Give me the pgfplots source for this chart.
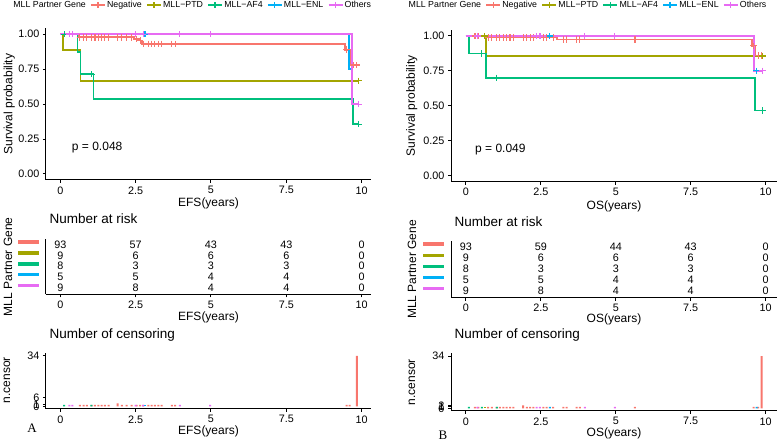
\documentclass[border=0pt]{standalone}
\usepackage{fontspec}
\setmainfont{Liberation Sans}
\newfontfamily\seriffont{Liberation Serif}
\usepackage{pgfplots}
\usepackage{pgfplotstable}
\pgfplotsset{compat=1.18}

\definecolor{cNeg}{HTML}{F8766D}
\definecolor{cPTD}{HTML}{A3A500}
\definecolor{cAF4}{HTML}{00BF7D}
\definecolor{cENL}{HTML}{00B0F6}
\definecolor{cOth}{HTML}{E76BF3}

% number at risk, rows: 5 = Negative ... 1 = Others
\pgfplotstableread{
x   y n
0   5 93
2.5 5 57
5   5 43
7.5 5 43
10  5 0
0   4 9
2.5 4 6
5   4 6
7.5 4 6
10  4 0
0   3 8
2.5 3 3
5   3 3
7.5 3 3
10  3 0
0   2 5
2.5 2 5
5   2 4
7.5 2 4
10  2 0
0   1 9
2.5 1 8
5   1 4
7.5 1 4
10  1 0
}\riskA
\pgfplotstableread{
x   y n
0   5 93
2.5 5 59
5   5 44
7.5 5 43
10  5 0
0   4 9
2.5 4 6
5   4 6
7.5 4 6
10  4 0
0   3 8
2.5 3 3
5   3 3
7.5 3 3
10  3 0
0   2 5
2.5 2 5
5   2 4
7.5 2 4
10  2 0
0   1 9
2.5 1 8
5   1 4
7.5 1 4
10  1 0
}\riskB

\pgfplotsset{
  gg/.style={
    scale only axis, clip=false,
    axis x line*=bottom, axis y line*=left,
    axis line style={line width=1pt, black, -},
    every tick/.style={line width=1pt, black},
    tick align=outside, major tick length=3pt,
    xtick={0,2.5,5,7.5,10}, xticklabels={0,2.5,5,7.5,10},
    ticklabel style={font=\fontsize{10.8}{12}\selectfont, black},
    /pgf/number format/assume math mode=true,
    label style={font=\fontsize{12}{14}\selectfont},
    title style={font=\fontsize{13.5}{15}\selectfont, at={(0,1)}, anchor=base west},
  },
  km/.style={gg, height=152pt,
    ymin=-0.043, ymax=1.045,
    ytick={0,0.25,0.5,0.75,1}, yticklabels={0.00,0.25,0.50,0.75,1.00},
    ylabel={Survival probability},
    legend style={draw=none, fill=none, inner sep=0pt, legend columns=-1,
      font=\fontsize{8.8}{10}\selectfont,
      nodes={inner sep=1.5pt},
      /tikz/every even column/.append style={column sep=3pt}},
    legend image code/.code={\draw[mark repeat=2,mark phase=2,##1] plot coordinates {(0pt,0pt) (7pt,0pt) (14pt,0pt)};},
  },
  risk/.style={gg, ymin=0.4, ymax=5.5,
    ytick={1,2,3,4,5}, ytick style={draw=none},
    yticklabels={\textcolor{cOth}{\rule{21pt}{3.5pt}},\textcolor{cENL}{\rule{21pt}{3.5pt}},\textcolor{cAF4}{\rule{21pt}{3.5pt}},\textcolor{cPTD}{\rule{21pt}{3.5pt}},\textcolor{cNeg}{\rule{21pt}{3.5pt}}},
    yticklabel style={yshift=2.5pt},
    ylabel={MLL Partner Gene},
    title={Number at risk},
  },
  cens/.style={gg, ymin=-1.7, ymax=35.7, ylabel={n.censor}, title={Number of censoring}},
  curve/.style={const plot, line width=1.8pt, forget plot},
  cmark/.style={only marks, mark=+, mark size=3.2pt, line width=1.1pt, forget plot},
  cbar/.style={ybar, bar width=2pt, bar shift=0pt, draw=none, fill=#1, forget plot},
  rnum/.style={only marks, mark=none, nodes near coords, point meta=explicit symbolic,
    every node near coord/.append style={anchor=center, font=\fontsize{10.8}{12}\selectfont, black}, forget plot},
}

\begin{document}
\begin{tikzpicture}
\useasboundingbox (0,0) rectangle (777pt,443pt);

% ---------------- A: survival ----------------
\begin{axis}[km, at={(46pt,263pt)}, anchor=south west, width=325pt,
  xmin=-0.475, xmax=10.31, xlabel={EFS(years)},
  xlabel style={at={(axis description cs:0.5,-0.153)}, anchor=center},
  ylabel style={at={(axis description cs:-0.113,0.5)}, anchor=center},
  legend style={at={(-0.1055,1.151)}, anchor=west}]
\addlegendimage{empty legend}\addlegendentry{MLL Partner Gene}
\addlegendimage{cNeg, line width=1.3pt, mark=+, mark size=3pt}\addlegendentry{Negative}
\addlegendimage{cPTD, line width=1.3pt, mark=+, mark size=3pt}\addlegendentry{MLL−PTD}
\addlegendimage{cAF4, line width=1.3pt, mark=+, mark size=3pt}\addlegendentry{MLL−AF4}
\addlegendimage{cENL, line width=1.3pt, mark=+, mark size=3pt}\addlegendentry{MLL−ENL}
\addlegendimage{cOth, line width=1.3pt, mark=+, mark size=3pt}\addlegendentry{Others}
\addplot[curve, cNeg] coordinates {(0,1) (0.6,0.978) (2.45,0.966) (2.6,0.955) (2.7,0.932) (9.45,0.89) (9.62,0.78) (9.9,0.78)};
\addplot[curve, cPTD] coordinates {(0,1) (0.1,0.889) (0.67,0.667) (9.9,0.667)};
\addplot[curve, cAF4] coordinates {(0,1) (0.57,0.875) (0.67,0.714) (1.1,0.536) (9.7,0.357) (9.9,0.357)};
\addplot[curve, cENL] coordinates {(0,1) (9.58,0.75) (9.67,0.5) (9.9,0.5)};
\addplot[curve, cOth] coordinates {(0,1) (9.67,0.5) (9.9,0.5)};
\addplot[cmark, cNeg] coordinates {(0.65,0.978) (0.77,0.978) (0.88,0.978) (1.04,0.978) (1.15,0.978) (1.26,0.978) (1.37,0.978) (1.48,0.978) (1.6,0.978) (1.9,0.978) (2.04,0.978) (2.2,0.978) (2.37,0.978) (2.53,0.966) (2.65,0.955) (2.76,0.932) (2.92,0.932) (3.03,0.932) (3.14,0.932) (3.25,0.932) (3.36,0.932) (3.7,0.932) (3.81,0.932) (9.5,0.89) (9.72,0.78) (9.84,0.78)};
\addplot[cmark, cPTD] coordinates {(9.9,0.667)};
\addplot[cmark, cAF4] coordinates {(0.13,1) (1.03,0.714) (9.9,0.357)};
\addplot[cmark, cENL] coordinates {(2.81,1) (9.9,0.5)};
\addplot[cmark, cOth] coordinates {(0.3,1) (0.4,1) (2.5,1) (2.75,1) (3.97,1) (4.97,1) (9.9,0.5)};
\node[anchor=west, font=\fontsize{12}{14}\selectfont] at (axis cs:0.27,0.19) {p = 0.048};
\end{axis}

% ---------------- A: number at risk ----------------
\begin{axis}[risk, at={(46pt,148.7pt)}, anchor=south west, width=325pt, height=55pt,
  xmin=-0.475, xmax=10.31, xlabel={EFS(years)},
  xlabel style={at={(axis description cs:0.5,-0.413)}, anchor=center},
  ylabel style={at={(axis description cs:-0.117,0.5)}, anchor=center},
  title style={yshift=9.5pt}]
\addplot[rnum] table[x=x, y=y, meta=n] {\riskA};
\end{axis}

% ---------------- A: number of censoring ----------------
\begin{axis}[cens, at={(46pt,34pt)}, anchor=south west, width=325pt, height=55.7pt,
  xmin=-0.475, xmax=10.31, xlabel={EFS(years)},
  ytick={0,1,6,34}, yticklabels={0,1,6,34},
  xlabel style={at={(axis description cs:0.5,-0.40)}, anchor=center},
  ylabel style={at={(axis description cs:-0.12,0.52)}, anchor=center},
  title style={yshift=8.5pt}]
\addplot[cbar=cNeg] coordinates {(0.65,1) (0.77,1) (0.88,1) (1.04,1) (1.15,1) (1.26,1) (1.37,1) (1.48,1) (1.6,1) (1.9,2) (2.04,1) (2.2,1) (2.37,1) (2.53,1) (2.65,1) (2.76,1) (2.92,1) (3.03,1) (3.14,1) (3.25,1) (3.36,1) (3.7,1) (3.81,1) (9.5,1) (9.6,1) (9.84,34)};
\addplot[cbar=cAF4] coordinates {(0.13,1) (1.03,1)};
\addplot[cbar=cENL] coordinates {(2.81,1)};
\addplot[cbar=cOth] coordinates {(0.3,1) (0.4,1) (2.5,1) (2.75,1) (3.97,1) (4.97,1)};
\end{axis}

% ---------------- B: survival ----------------
\begin{axis}[km, at={(451pt,261.3pt)}, anchor=south west, width=326pt,
  xmin=-0.5, xmax=10.38, xlabel={OS(years)},
  xlabel style={at={(axis description cs:0.5,-0.164)}, anchor=center},
  ylabel style={at={(axis description cs:-0.12,0.5)}, anchor=center},
  legend style={at={(-0.135,1.1625)}, anchor=west}]
\addlegendimage{empty legend}\addlegendentry{MLL Partner Gene}
\addlegendimage{cNeg, line width=1.3pt, mark=+, mark size=3pt}\addlegendentry{Negative}
\addlegendimage{cPTD, line width=1.3pt, mark=+, mark size=3pt}\addlegendentry{MLL−PTD}
\addlegendimage{cAF4, line width=1.3pt, mark=+, mark size=3pt}\addlegendentry{MLL−AF4}
\addlegendimage{cENL, line width=1.3pt, mark=+, mark size=3pt}\addlegendentry{MLL−ENL}
\addlegendimage{cOth, line width=1.3pt, mark=+, mark size=3pt}\addlegendentry{Others}
\addplot[curve, cNeg] coordinates {(0,1) (0.7,0.989) (3.05,0.975) (9.55,0.93) (9.65,0.86) (9.9,0.86)};
\addplot[curve, cPTD] coordinates {(0,1) (0.67,0.857) (9.9,0.857)};
\addplot[curve, cAF4] coordinates {(0,1) (0.1,0.875) (0.67,0.7) (9.64,0.467) (9.9,0.467)};
\addplot[curve, cENL] coordinates {(0,1) (9.6,0.75) (9.9,0.75)};
\addplot[curve, cOth] coordinates {(0,1) (9.62,0.75) (9.9,0.75)};
\addplot[cmark, cNeg] coordinates {(0.3,1) (0.41,1) (0.74,0.989) (0.86,0.989) (1.02,0.989) (1.13,0.989) (1.25,0.989) (1.36,0.989) (1.47,0.989) (1.58,0.989) (1.91,0.989) (2.03,0.989) (2.14,0.989) (2.25,0.989) (2.58,0.989) (2.69,0.989) (2.91,0.989) (3.25,0.975) (3.36,0.975) (3.69,0.975) (3.8,0.975) (5.64,0.975) (9.6,0.93) (9.75,0.86) (9.87,0.86)};
\addplot[cmark, cPTD] coordinates {(0.62,1) (9.9,0.857)};
\addplot[cmark, cAF4] coordinates {(0.53,0.875) (1.03,0.7) (9.9,0.467)};
\addplot[cmark, cENL] coordinates {(2.8,1) (9.7,0.75)};
\addplot[cmark, cOth] coordinates {(0.38,1) (2.36,1) (2.47,1) (3.97,1) (4.97,1) (9.9,0.75)};
\node[anchor=west, font=\fontsize{12}{14}\selectfont] at (axis cs:0.19,0.19) {p = 0.049};
\end{axis}

% ---------------- B: number at risk ----------------
\begin{axis}[risk, at={(451pt,145.3pt)}, anchor=south west, width=326pt, height=56.5pt,
  xmin=-0.5, xmax=10.38, xlabel={OS(years)},
  xlabel style={at={(axis description cs:0.5,-0.382)}, anchor=center},
  ylabel style={at={(axis description cs:-0.12,0.5)}, anchor=center},
  title style={yshift=9pt}]
\addplot[rnum] table[x=x, y=y, meta=n] {\riskB};
\end{axis}

% ---------------- B: number of censoring ----------------
\begin{axis}[cens, at={(451pt,32pt)}, anchor=south west, width=326pt, height=57.6pt,
  xmin=-0.5, xmax=10.38, xlabel={OS(years)},
  ytick={0,1,2,34}, yticklabels={0,1,2,34},
  xlabel style={at={(axis description cs:0.5,-0.39)}, anchor=center},
  ylabel style={at={(axis description cs:-0.12,0.5)}, anchor=center},
  title style={yshift=8.5pt}]
\addplot[cbar=cNeg] coordinates {(0.3,1) (0.41,1) (0.74,1) (0.86,1) (1.02,1) (1.13,1) (1.25,1) (1.36,1) (1.47,1) (1.58,1) (1.91,2) (2.03,1) (2.14,1) (2.25,1) (2.58,1) (2.69,1) (2.91,1) (3.25,1) (3.36,1) (3.69,1) (3.8,1) (5.64,1) (9.6,1) (9.75,1) (9.87,34)};
\addplot[cbar=cPTD] coordinates {(0.62,1)};
\addplot[cbar=cAF4] coordinates {(0.1,1) (0.53,1) (1.03,1)};
\addplot[cbar=cENL] coordinates {(2.8,1) (9.7,1)};
\addplot[cbar=cOth] coordinates {(0.38,1) (2.36,1) (2.47,1) (3.97,1) (4.97,1)};
\end{axis}

\node[font=\seriffont\fontsize{13}{15}\selectfont] at (32pt,15pt) {A};
\node[font=\seriffont\fontsize{13}{15}\selectfont] at (443pt,8pt) {B};
\end{tikzpicture}
\end{document}
